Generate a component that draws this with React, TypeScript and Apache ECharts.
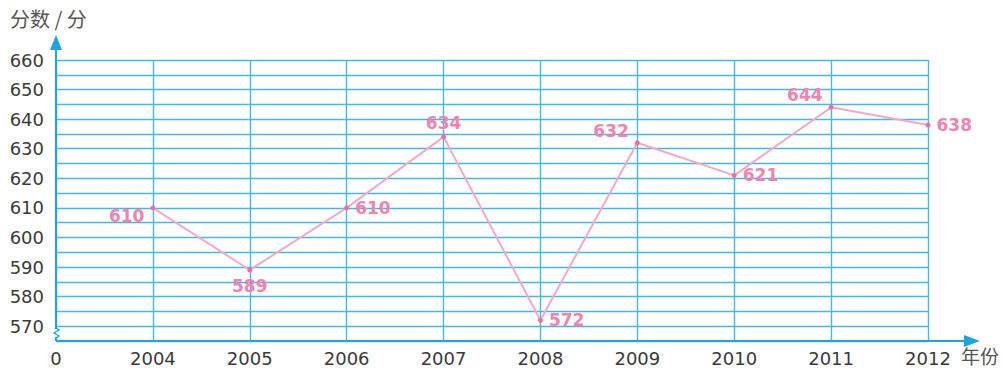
import React, { useEffect, useRef } from "react";
import * as echarts from "echarts";

const years = [2004, 2005, 2006, 2007, 2008, 2009, 2010, 2011, 2012];
const scores = [610, 589, 610, 634, 572, 632, 621, 644, 638];
const yTickLabels = [570, 580, 590, 600, 610, 620, 630, 640, 650, 660];
const labelPositions = ["leftBelow", "bottom", "right", "top", "right", "leftAbove", "right", "leftAbove", "right"];

const GRID_BLUE = "#45b6e8";
const AXIS_BLUE = "#1ea3e3";
const PINK = "#f084ae";

export default function App() {
  const ref = useRef<HTMLDivElement>(null);
  useEffect(() => {
    if (!ref.current) return;
    const chart = echarts.init(ref.current, undefined, { renderer: "svg" });
    const data = years.map((y, i) => {
      const p = labelPositions[i];
      let label: any = { position: "right", offset: [1, 0] };
      if (p === "leftBelow") label = { position: "left", offset: [-1, 8] };
      else if (p === "bottom") label = { position: "bottom", offset: [0, 0] };
      else if (p === "top") label = { position: "top", offset: [0, 2] };
      else if (p === "leftAbove") label = { position: "left", offset: [-1, -12] };
      return { value: [y, scores[i]], label };
    });
    const font = "'DejaVu Sans', sans-serif";
    chart.setOption({
      animation: false,
      backgroundColor: "#ffffff",
      grid: { left: 56, right: 76, top: 60, bottom: 30, containLabel: false },
      xAxis: {
        type: "value",
        min: 2003,
        max: 2012,
        interval: 1,
        axisLine: { show: false },
        axisTick: { show: false },
        splitLine: { show: true, lineStyle: { color: GRID_BLUE, width: 1.4 } },
        axisLabel: {
          color: "#3a3a3a",
          fontSize: 18,
          fontFamily: font,
          margin: 8,
          formatter: (v: number) => (v === 2003 ? "0" : String(v)),
        },
      },
      yAxis: {
        type: "value",
        min: 565,
        max: 660,
        interval: 5,
        axisLine: { show: false },
        axisTick: { show: false },
        splitLine: { show: true, lineStyle: { color: GRID_BLUE, width: 1.4 } },
        axisLabel: {
          color: "#3a3a3a",
          fontSize: 18,
          fontFamily: font,
          margin: 12,
          formatter: (v: number) => (yTickLabels.includes(v) ? String(v) : ""),
        },
      },
      series: [
        {
          type: "line",
          data,
          symbol: "circle",
          symbolSize: 5,
          lineStyle: { color: "#f6a9c5", width: 2 },
          itemStyle: { color: "#ec6f9c" },
          label: {
            show: true,
            color: PINK,
            fontSize: 17,
            fontWeight: "bold",
            fontFamily: font,
            formatter: (p: any) => String(p.value[1]),
          },
          z: 5,
        },
      ],
      graphic: [
        { type: "line", shape: { x1: 56, y1: 341, x2: 968, y2: 341 }, style: { stroke: AXIS_BLUE, lineWidth: 2 }, z: 10 },
        { type: "polygon", shape: { points: [[964, 335], [980, 341], [964, 347]] }, style: { fill: AXIS_BLUE }, z: 10 },
        { type: "line", shape: { x1: 56, y1: 341, x2: 56, y2: 46 }, style: { stroke: AXIS_BLUE, lineWidth: 2 }, z: 10 },
        { type: "polygon", shape: { points: [[50, 50], [56, 35], [62, 50]] }, style: { fill: AXIS_BLUE }, z: 10 },
        { type: "rect", shape: { x: 54, y: 329, width: 4, height: 8 }, style: { fill: "#ffffff" }, z: 11 },
        {
          type: "polyline",
          shape: { points: [[56, 328], [59, 330], [54, 333], [59, 336], [56, 338]] },
          style: { stroke: AXIS_BLUE, lineWidth: 1.3, fill: "none" },
          z: 12,
        },
        {
          type: "text",
          x: 10,
          y: 8,
          style: { text: "分数 / 分", fontSize: 20, fill: "#555555", fontFamily: "'Noto Sans CJK SC', sans-serif" },
          z: 10,
        },
        {
          type: "text",
          x: 961,
          y: 346,
          style: { text: "年份", fontSize: 19, fill: "#555555", fontFamily: "'Noto Sans CJK SC', sans-serif" },
          z: 10,
        },
      ],
    });
    return () => chart.dispose();
  }, []);
  return (
    <div
      ref={ref}
      style={{ position: "fixed", left: 0, top: 0, width: 1004, height: 371, background: "#fff" }}
    />
  );
}
